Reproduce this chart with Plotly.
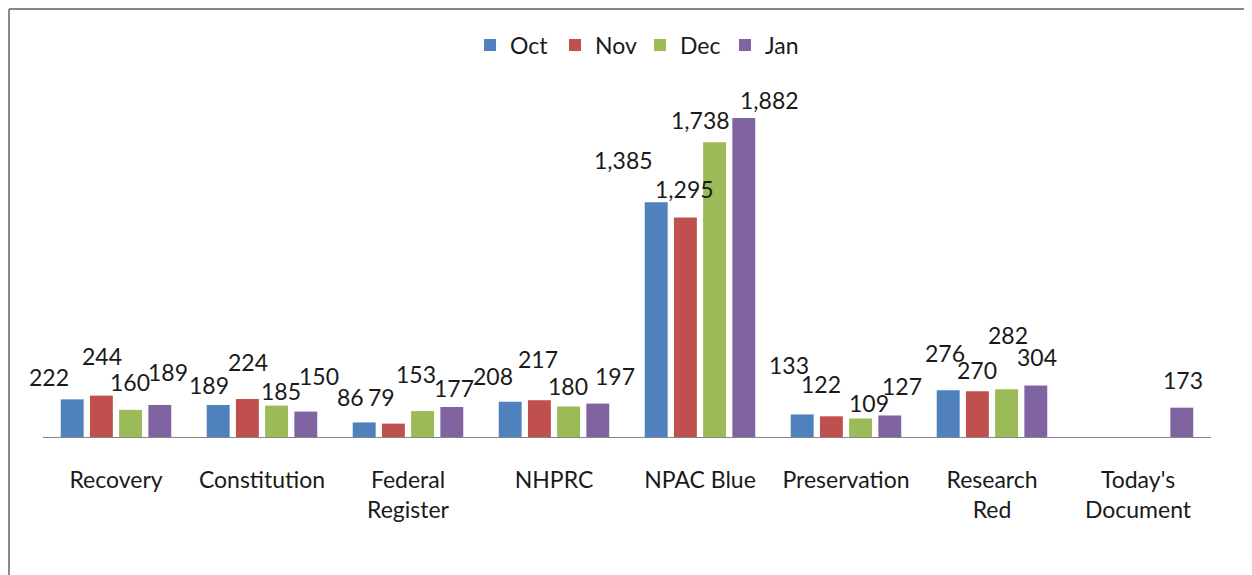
import plotly.graph_objects as go

# ---- data ----
categories = ["Recovery", "Constitution", "Federal<br>Register", "NHPRC", "NPAC Blue",
              "Preservation", "Research<br>Red", "Today's<br>Document"]
series_names = ["Oct", "Nov", "Dec", "Jan"]
oct_vals = [222, 189, 86, 208, 1385, 133, 276, None]
nov_vals = [244, 224, 79, 217, 1295, 122, 270, None]
dec_vals = [160, 185, 153, 180, 1738, 109, 282, None]
jan_vals = [189, 150, 177, 197, 1882, 127, 304, 173]

# ---- style ----
colors = ["#4F81BD", "#C0504D", "#9BBB59", "#8064A2"]
FONT = "Lato, 'Open Sans', sans-serif"
TXT = "#1a1a1a"
W, H = 1252, 575
PAGE_OFF = 8  # default body margin of the html page
ML, MR, MT, MB = 35, 49, 56, 146
BARGAP, GROUPGAP = 0.2, 0.215
YMAX = 2200

# label nudges (px) relative to top-centre of each bar: (dx, dy)
label_dx = [
    [-23, -9, -14, -17, -33, -13, -3, 0],
    [1, 1, -12, -1, -1, -10, 0, 0],
    [-1, 4, -7, -1, -14, 8, 1, 0],
    [8, 13, 2, 17, 26, 12, 1, 1],
]
label_dy = [
    [22, 20, 25, 26, 42, 49, 37, 0],
    [40, 37, 27, 41, 28, 32, 21, 0],
    [28, 15, 37, 20, 22, 16, 54, 0],
    [33, 36, 19, 28, 18, 29, 28, 28],
]

all_vals = [oct_vals, nov_vals, dec_vals, jan_vals]

fig = go.Figure()
for name, vals, col in zip(series_names, all_vals, colors):
    fig.add_trace(go.Bar(name=name, x=categories, y=vals, marker_color=col,
                         marker_line_width=0, hoverinfo="skip"))

plot_w = W - ML - MR
plot_h = H - MT - MB
slot = plot_w / len(categories) * (1 - BARGAP) / len(series_names)

annotations = []
for i, vals in enumerate(all_vals):
    for j, v in enumerate(vals):
        if v is None:
            continue
        annotations.append(dict(
            x=categories[j], y=v, xref="x", yref="y",
            xshift=(i - 1.5) * slot + label_dx[i][j], yshift=label_dy[i][j],
            text=f"{v:,}", showarrow=False, xanchor="center", yanchor="middle",
            font=dict(family=FONT, size=23, color=TXT)))


def px_to_paper_x(px):
    return (px - ML) / plot_w


def px_to_paper_y(py):
    return (H - MB - py) / plot_h


shapes = [
    dict(type="line", xref="paper", yref="paper",
         x0=px_to_paper_x(1), x1=px_to_paper_x(W + 5),
         y0=px_to_paper_y(1), y1=px_to_paper_y(1),
         line=dict(color="#898989", width=2)),
    dict(type="line", xref="paper", yref="paper",
         x0=px_to_paper_x(1), x1=px_to_paper_x(1),
         y0=px_to_paper_y(1), y1=px_to_paper_y(H + 5),
         line=dict(color="#898989", width=2)),
]

fig.update_layout(
    width=W, height=H,
    margin=dict(l=ML, r=MR, t=MT, b=MB, autoexpand=False),
    paper_bgcolor="white", plot_bgcolor="white",
    barmode="group", bargap=BARGAP, bargroupgap=GROUPGAP,
    font=dict(family=FONT, size=23, color=TXT),
    showlegend=True,
    legend=dict(orientation="h", x=px_to_paper_x(640 - PAGE_OFF), xanchor="center",
                y=px_to_paper_y(45 - PAGE_OFF), yanchor="middle",
                entrywidth=40, entrywidthmode="pixels",
                font=dict(family=FONT, size=23, color=TXT),
                itemclick=False, itemdoubleclick=False),
    xaxis=dict(showline=True, linecolor="#868686", linewidth=1, ticks="",
               range=[-0.5, len(categories) - 0.5], automargin=False,
               showgrid=False, zeroline=False, ticklabelstandoff=22,
               tickfont=dict(family=FONT, size=23, color=TXT), fixedrange=True),
    yaxis=dict(range=[0, YMAX], visible=False, showgrid=False, zeroline=False,
               automargin=False, fixedrange=True),
    annotations=annotations,
    shapes=shapes,
    hovermode=False,
)

fig.write_html("out.html")
